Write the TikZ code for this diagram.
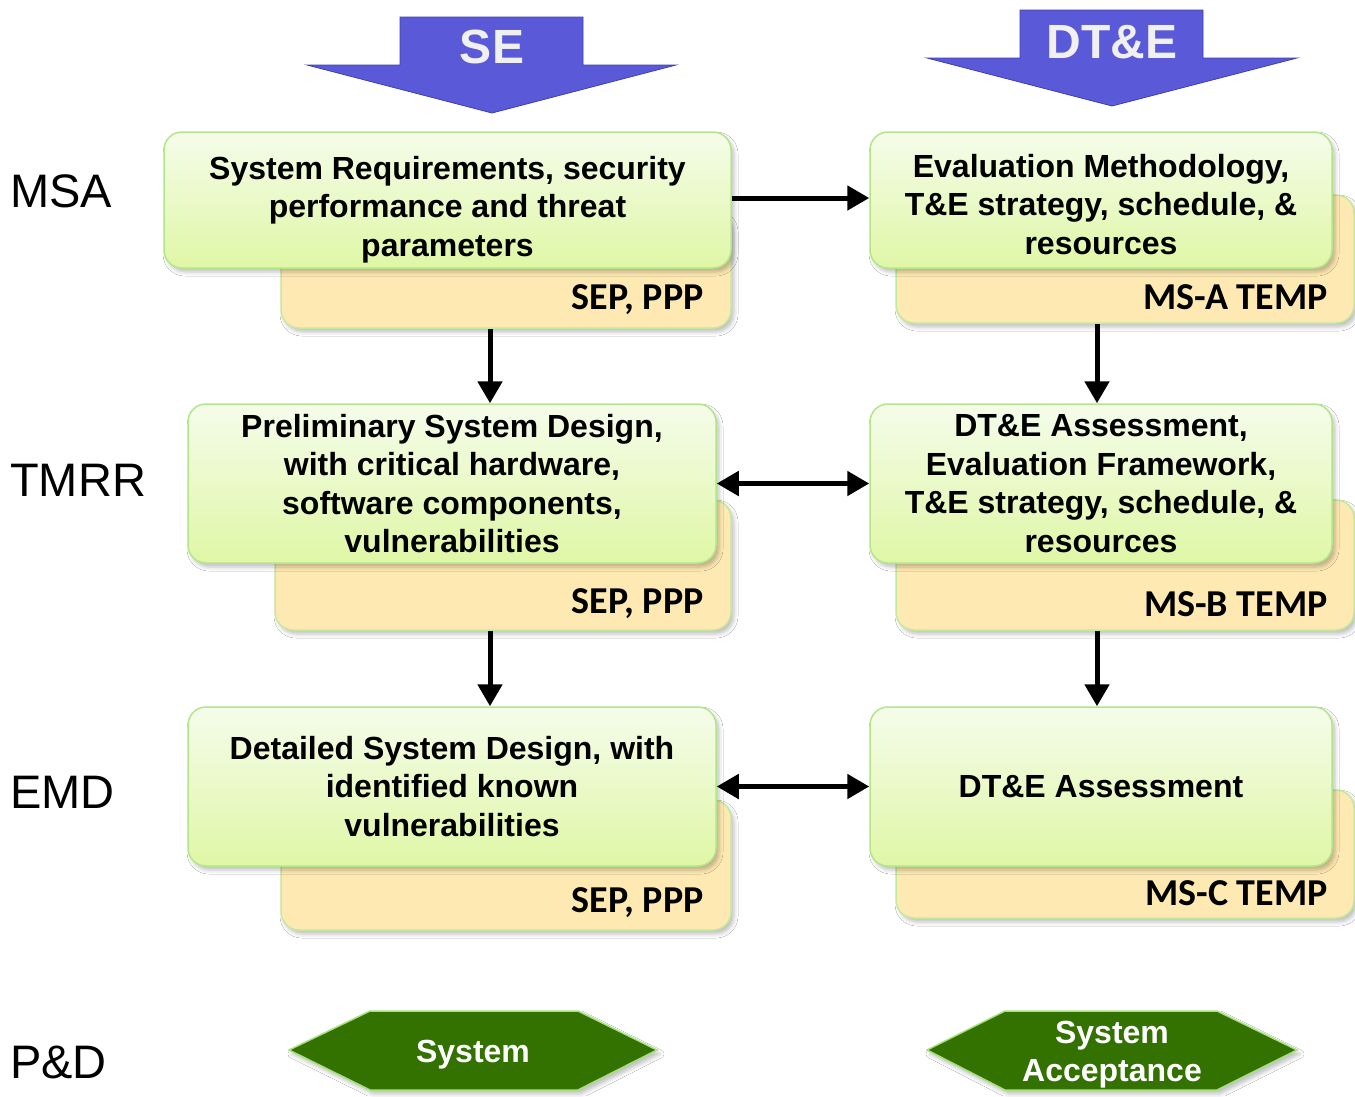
\documentclass[tikz,border=0pt]{standalone}
\usepackage{fontspec}
\setmainfont{Liberation Sans}
\newfontfamily\carlito{Carlito}
\usetikzlibrary{arrows.meta,shadows,shadows.blur,calc}
\definecolor{gtop}{HTML}{F5FCEA}
\definecolor{gbot}{HTML}{DFF7A6}
\definecolor{gline}{HTML}{B3E68A}
\definecolor{ofill}{HTML}{FEE9B2}
\definecolor{oline}{HTML}{C3E99C}
\definecolor{bluefill}{HTML}{5A5AD8}
\definecolor{blueline}{HTML}{3F3FB0}
\definecolor{hexfill}{HTML}{337200}
\definecolor{hexline}{HTML}{A8E080}
\begin{document}
\begin{tikzpicture}[x=1pt,y=-1pt,
  greenbox/.style={draw=gline, line width=1.5pt, rounded corners=18pt, top color=gtop, bottom color=gbot,
    align=center, font=\bfseries\fontsize{32}{38.4}\selectfont, inner sep=0pt,
    blur shadow={shadow xshift=3pt, shadow yshift=-4pt, shadow blur radius=4pt, shadow opacity=25}},
  orangebox/.style={draw=oline, line width=1.5pt, rounded corners=18pt, fill=ofill, inner sep=0pt,
    blur shadow={shadow xshift=3pt, shadow yshift=-4pt, shadow blur radius=4pt, shadow opacity=25}},
  doclabel/.style={anchor=east, font=\carlito\bfseries\fontsize{38}{40}\selectfont, inner sep=0pt},
  phase/.style={anchor=west, font=\fontsize{47}{50}\selectfont, inner sep=0pt},
  bigarrow/.style={fill=bluefill, draw=blueline, line width=0.8pt},
  bigarrowtext/.style={font=\bfseries\fontsize{48}{50}\selectfont, text=white!94!black, inner sep=0pt},
  hexshape/.style={fill=hexfill, draw=hexline, line width=1.5pt,
    blur shadow={shadow xshift=3pt, shadow yshift=-4pt, shadow blur radius=4pt, shadow opacity=25}},
  hextext/.style={align=center, text=white, font=\bfseries\fontsize{32}{38}\selectfont, inner sep=0pt},
  conn/.style={line width=5pt, -{Triangle[length=22pt,width=24pt]}},
  dconn/.style={line width=5pt, {Triangle[length=22pt,width=24pt]}-{Triangle[length=22pt,width=24pt]}}
]
\useasboundingbox (0,0) rectangle (1355,1096);
\fill[white] (0,0) rectangle (1355,1096);

% big blue arrows
\draw[bigarrow] (400,17) -- (583,17) -- (583,65) -- (676,65) -- (492,113) -- (307,65) -- (400,65) -- cycle;
\node[bigarrowtext] (se) at (492,47) {SE};
\draw[bigarrow] (1020,10) -- (1203,10) -- (1203,58) -- (1297,58) -- (1112,106) -- (927,58) -- (1020,58) -- cycle;
\node[bigarrowtext] (dte) at (1112,42) {DT\&E};

% phase labels
\node[phase] (msa) at (10,191) {MSA};
\node[phase] (tmrr) at (10,480) {TMRR};
\node[phase] (emd) at (10,792) {EMD};
\node[phase] (pd) at (10,1062) {P\&D};

% orange document boxes
\node[orangebox, minimum width=450, minimum height=118] (o1) at (506,269) {};
\node[orangebox, minimum width=458, minimum height=128] (p1) at (1125,259) {};
\node[orangebox, minimum width=456, minimum height=130] (o2) at (503,565) {};
\node[orangebox, minimum width=458, minimum height=130] (p2) at (1125,565) {};
\node[orangebox, minimum width=450, minimum height=130] (o3) at (506,865) {};
\node[orangebox, minimum width=458, minimum height=128] (p3) at (1125,854) {};

\node[doclabel] (o1t) at ($(o1.south east)+(-28,-29)$) {SEP, PPP};
\node[doclabel] (p1t) at ($(p1.south east)+(-27,-27)$) {MS-A TEMP};
\node[doclabel] (o2t) at ($(o2.south east)+(-28,-27)$) {SEP, PPP};
\node[doclabel] (p2t) at ($(p2.south east)+(-27,-27)$) {MS-B TEMP};
\node[doclabel] (o3t) at ($(o3.south east)+(-28,-28)$) {SEP, PPP};
\node[doclabel] (p3t) at ($(p3.south east)+(-27,-26)$) {MS-C TEMP};

% green boxes
\node[greenbox, minimum width=567, minimum height=136] (b1) at (447.5,200)
  {\raisebox{-10pt}[\height][\depth]{\begin{tabular}{@{}c@{}}System Requirements, security\\ performance and threat\\ parameters\end{tabular}}};
\node[greenbox, minimum width=462, minimum height=136] (d1) at (1101,200)
  {\raisebox{-8pt}[\height][\depth]{\begin{tabular}{@{}c@{}}Evaluation Methodology,\\ T\&E strategy, schedule, \&\\ resources\end{tabular}}};
\node[greenbox, minimum width=528, minimum height=159] (b2) at (452,483.5)
  {Preliminary System Design,\\ with critical hardware,\\ software components,\\ vulnerabilities};
\node[greenbox, minimum width=462, minimum height=159] (d2) at (1101,483.5)
  {DT\&E Assessment,\\ Evaluation Framework,\\ T\&E strategy, schedule, \&\\ resources};
\node[greenbox, minimum width=528, minimum height=159] (b3) at (452,786.5)
  {Detailed System Design, with\\ identified known\\ vulnerabilities};
\node[greenbox, minimum width=462, minimum height=159] (d3) at (1101,786.5)
  {DT\&E Assessment};

% connectors
\draw[conn] ($(b1.east)+(0,-2)$) -- ($(d1.west)+(0,-2)$);
\draw[conn] (o1.south -| 490,0) -- (b2.north -| 490,0);
\draw[conn] (p1.south -| 1097,0) -- (d2.north -| 1097,0);
\draw[dconn] (b2.east) -- (d2.west);
\draw[conn] (o2.south -| 490,0) -- (b3.north -| 490,0);
\draw[conn] (p2.south -| 1097,0) -- (d3.north -| 1097,0);
\draw[dconn] (b3.east) -- (d3.west);

% hexagons
\draw[hexshape] (289,1050) -- (370,1011) -- (578,1011) -- (657,1050) -- (578,1090) -- (370,1090) -- cycle;
\node[hextext] (sys) at (473,1055) {System};
\draw[hexshape] (927,1050) -- (1005,1011) -- (1217,1011) -- (1297,1050) -- (1217,1090) -- (1005,1090) -- cycle;
\node[hextext] (sysacc) at (1112,1055) {System\\ Acceptance};
\end{tikzpicture}
\end{document}
